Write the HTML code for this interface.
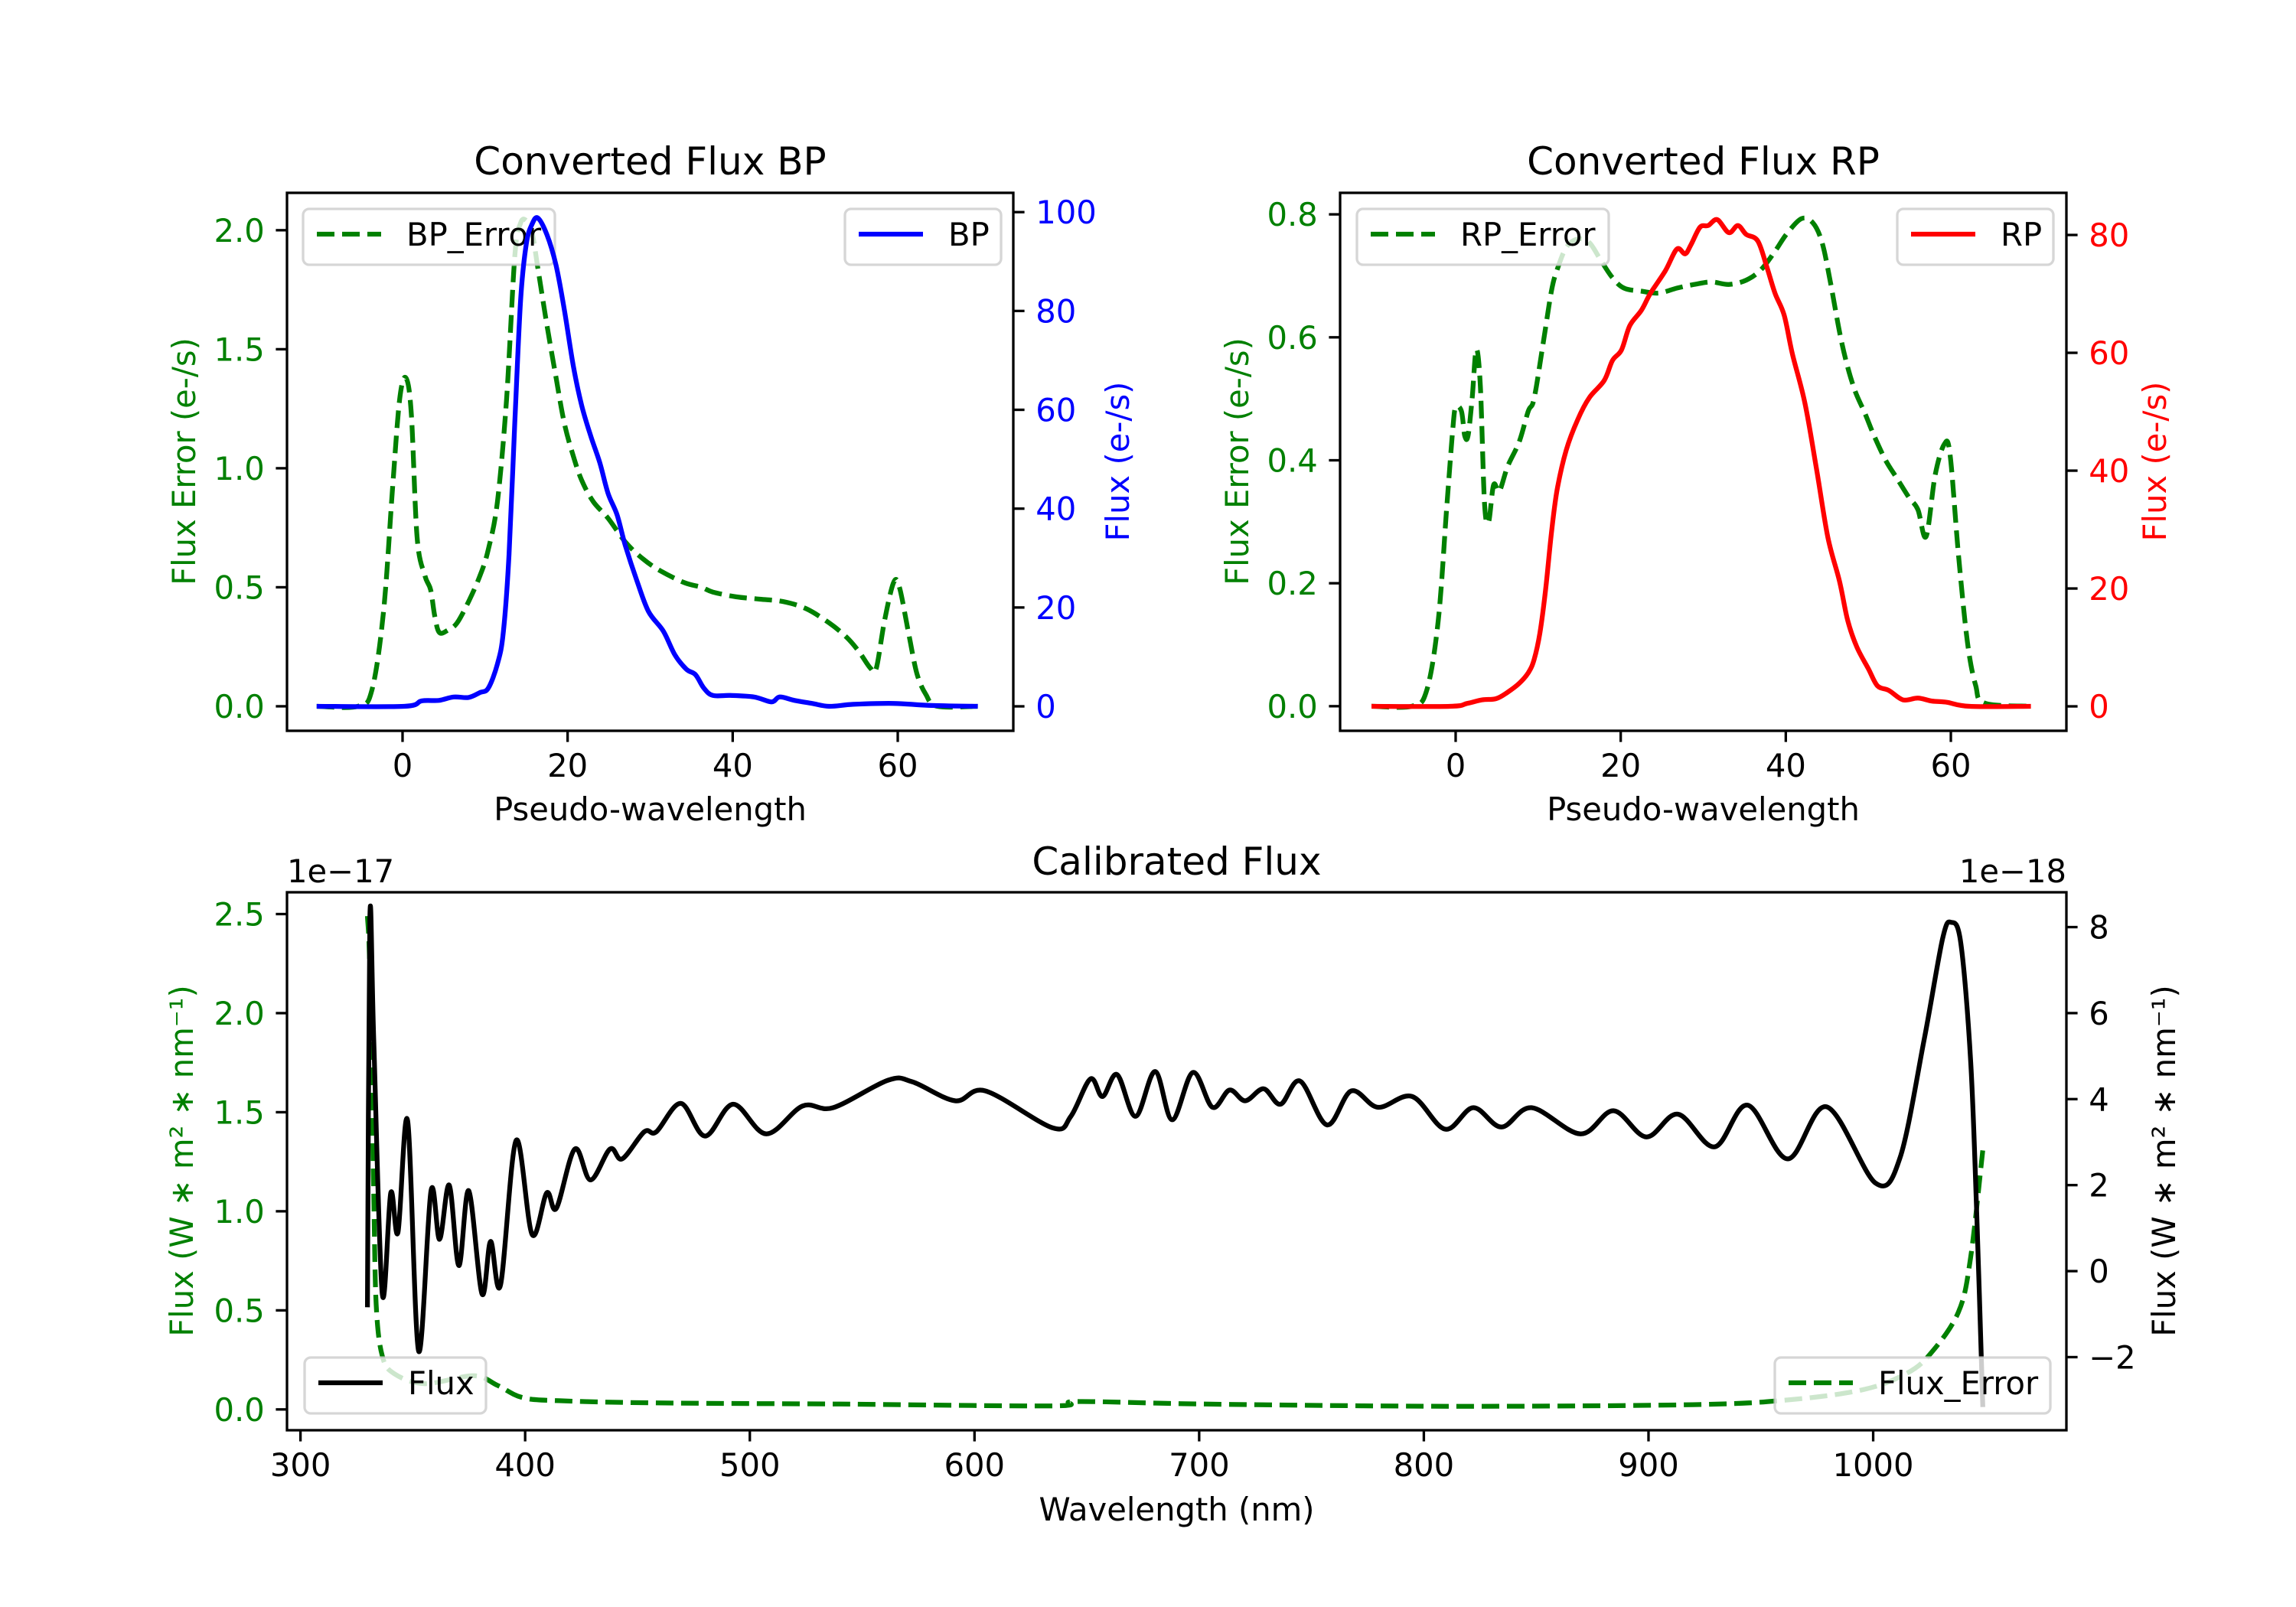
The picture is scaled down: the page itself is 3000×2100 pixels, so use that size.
<!DOCTYPE html>
<html><head><meta charset="utf-8"><style>
html,body{margin:0;padding:0;background:#fff}
svg{display:block}
text{font-family:"DejaVu Sans","Liberation Sans",sans-serif}
</style></head><body>
<svg id="fig" xmlns="http://www.w3.org/2000/svg" width="3000" height="2100" viewBox="0 0 3000 2100">
<rect x="0" y="0" width="3000" height="2100" fill="#fff"/>
</svg>
<script>
// ---------- data ----------
const bpErrX=[-10.4,-5.4,-3.7,-2.3,-1.2,-0.35,0.4,1.06,1.76,2.7,3.4,3.9,4.45,5.5,6.6,8.0,9.4,10.4,11.5,12.6,13.6,14.3,15.0,15.7,16.4,17.5,18.6,19.6,20.7,21.7,23.1,24.9,27.0,29.1,31.2,34.1,36.2,37.6,40.4,43.3,46.1,48.9,51.7,53.8,55.3,56.7,57.4,58.4,59.5,60.2,61.3,62.3,63.4,64.8,69.7];
const bpErrY=[0,0,0.07,0.40,0.92,1.29,1.38,1.23,0.71,0.55,0.49,0.38,0.31,0.32,0.35,0.44,0.55,0.66,0.86,1.29,1.89,2.03,2.04,1.99,1.84,1.60,1.38,1.19,1.05,0.95,0.86,0.79,0.69,0.62,0.57,0.52,0.50,0.48,0.46,0.45,0.44,0.41,0.35,0.29,0.23,0.16,0.16,0.36,0.52,0.50,0.31,0.14,0.05,0.0,0];
const bpX=[-10.4,0.2,2.3,4.4,6.2,8.0,9.4,10.4,11.5,12.2,12.9,13.6,14.3,15.0,15.7,16.4,17.5,18.6,19.6,20.7,21.7,22.8,23.9,24.9,26.0,27.0,28.4,29.8,31.6,33.0,34.4,35.5,36.5,37.6,39.7,42.6,44.7,45.7,47.5,49.6,51.7,54.6,59.5,63.7,69.7];
const bpY=[0,0,1.1,1.2,1.9,1.8,2.8,3.7,8.6,14.8,30.7,57.3,82.1,93.6,97.6,98.8,95.4,89.2,80.3,68.8,60.9,54.7,49.3,43.1,38.7,32.5,25.4,19.2,15.2,10.4,7.5,6.4,3.7,2.2,2.2,1.9,0.9,1.9,1.2,0.6,0,0.4,0.6,0.2,0];
const rpErrX=[-10.2,-5.3,-3.5,-2.1,-1.1,-0.35,0,0.7,1.1,1.5,2.0,2.5,3.0,3.5,4.0,4.6,5.3,6.3,7.7,8.8,9.5,10.6,11.6,12.3,13.4,14.8,16.2,17.6,19.0,20.4,22.5,24.6,26.8,28.9,31.0,33.1,35.2,37.0,38.7,40.1,41.9,43.3,44.4,45.4,46.8,48.2,49.6,50.7,52.1,53.5,54.9,56.0,57.0,58.1,59.2,59.9,60.9,62.0,63.0,64.1,69.7];
const rpErrY=[0,0,0.026,0.14,0.32,0.45,0.486,0.48,0.44,0.44,0.50,0.58,0.52,0.33,0.30,0.36,0.35,0.39,0.43,0.48,0.50,0.59,0.675,0.71,0.746,0.76,0.754,0.725,0.697,0.68,0.675,0.672,0.68,0.686,0.69,0.686,0.693,0.71,0.74,0.768,0.793,0.786,0.754,0.69,0.59,0.52,0.476,0.44,0.40,0.37,0.34,0.32,0.276,0.376,0.426,0.41,0.25,0.105,0.034,0.005,0];
const rpX=[-10.2,-0.7,1.4,3.2,4.9,6.3,7.7,8.8,9.5,10.2,10.9,11.6,12.3,13.4,14.8,16.2,18.0,19.0,20.1,21.1,22.5,23.6,25.4,26.8,27.8,28.5,29.6,30.6,31.7,33.1,34.2,35.2,36.6,37.7,38.7,39.8,40.8,42.3,43.7,45.1,46.5,47.5,48.6,50.0,51.1,52.5,54.2,56.0,57.7,59.5,62.3,69.7];
const rpY=[0,0,0.5,1.1,1.3,2.4,3.9,5.7,7.9,12.4,19.8,29.4,36.8,43.5,48.7,52.4,55.3,58.7,60.5,64.6,67.2,70.1,73.9,77.6,76.8,78.3,81.3,81.6,82.6,80.4,81.6,80.1,79.0,74.6,70.1,66.4,59.8,51.6,40.5,28.7,21.3,14.6,10.1,6.4,3.5,2.7,1.1,1.4,0.9,0.7,0,0];
const calX=[329.8,330.9,332.6,336.4,340.2,343.4,347.7,352.6,358.1,361.9,366.2,370.5,374.9,380.8,384.6,389.0,396.0,403.1,409.6,413.9,422.1,429.1,437.8,443.2,453.0,458.4,469.3,480.1,492.6,507.3,523.5,537.1,561.5,572.4,591.4,604.9,634.8,642.9,651.6,657.0,663.5,671.7,680.4,688.0,697.2,705.9,713.5,720.5,728.7,736.2,744.9,756.9,767.7,779.6,794.8,809.5,822.0,834.5,848.0,869.7,884.4,899.0,913.1,929.4,944.1,961.9,979.3,1001.0,1011.9,1022.7,1030.9,1034.7,1039.0,1043.4,1046.1,1048.8];
const calY=[-0.84,8.24,5.4,-0.53,1.82,0.9,3.5,-1.86,1.87,0.74,2.0,0.13,1.87,-0.53,0.69,-0.33,3.04,0.85,1.82,1.46,2.84,2.12,2.84,2.61,3.24,3.24,3.9,3.14,3.88,3.19,3.84,3.8,4.44,4.4,3.96,4.19,3.33,3.6,4.47,4.06,4.57,3.6,4.64,3.52,4.62,3.81,4.21,3.96,4.24,3.88,4.42,3.40,4.19,3.81,4.06,3.30,3.80,3.35,3.80,3.19,3.73,3.12,3.65,2.89,3.86,2.61,3.82,2.05,2.63,5.39,7.73,8.11,7.63,4.88,1.31,-3.16];
const calErrX=[329.8,330.9,332.6,333.7,336.4,341.8,355.3,377,387.9,398.8,415,458,540,635,645.6,702.6,811,919.6,963,995.6,1014.6,1025.4,1037.9,1043.3,1048.8];
const calErrY=[2.49,2.2,1.09,0.53,0.27,0.18,0.13,0.17,0.12,0.06,0.044,0.033,0.027,0.018,0.04,0.027,0.016,0.024,0.049,0.10,0.18,0.28,0.49,0.76,1.31];
const pwTicks=[0,20,40,60];
const bpErrTicks=[0,0.5,1.0,1.5,2.0];
const bpErrTickLabels=["0.0","0.5","1.0","1.5","2.0"];
const bpTicks=[0,20,40,60,80,100];
const rpErrTicks=[0,0.2,0.4,0.6,0.8];
const rpErrTickLabels=["0.0","0.2","0.4","0.6","0.8"];
const rpTicks=[0,20,40,60,80];
const wlTicks=[300,400,500,600,700,800,900,1000];
const calErrTicks=[0,0.5,1.0,1.5,2.0,2.5];
const calErrTickLabels=["0.0","0.5","1.0","1.5","2.0","2.5"];
const calTicks=[-2,0,2,4,6,8];
const calTickLabels=["\u22122","0","2","4","6","8"];

// ---------- helpers ----------
const NS="http://www.w3.org/2000/svg";
const svg=document.getElementById('fig');
const FS=41.7, LW=6.25, TL=14.6;
function el(tag,attrs,parent){const e=document.createElementNS(NS,tag);for(const k in attrs)e.setAttribute(k,attrs[k]);(parent||svg).appendChild(e);return e;}
function txt(s,attrs,parent){const e=el('text',attrs,parent);e.textContent=s;return e;}
function lin(d0,d1,p0,p1){return v=>p0+(v-d0)*(p1-p0)/(d1-d0);}
function smoothPath(xs,ys,sx,sy){
  const P=xs.map((x,i)=>[sx(x),sy(ys[i])]);
  let d='M'+P[0][0].toFixed(1)+','+P[0][1].toFixed(1);
  for(let i=0;i<P.length-1;i++){
    const p0=P[Math.max(0,i-1)],p1=P[i],p2=P[i+1],p3=P[Math.min(P.length-1,i+2)];
    const t=1/6;
    const c1=[p1[0]+(p2[0]-p0[0])*t,p1[1]+(p2[1]-p0[1])*t];
    const c2=[p2[0]-(p3[0]-p1[0])*t,p2[1]-(p3[1]-p1[1])*t];
    d+=' C'+c1[0].toFixed(1)+','+c1[1].toFixed(1)+' '+c2[0].toFixed(1)+','+c2[1].toFixed(1)+' '+p2[0].toFixed(1)+','+p2[1].toFixed(1);
  }
  return d;
}
let clipN=0;
function clip(x0,y0,x1,y1){const id='clip'+(clipN++);const cp=el('clipPath',{id:id});el('rect',{x:x0,y:y0,width:x1-x0,height:y1-y0},cp);return id;}
function legend(bx,by,bw,label,color,dashed,name){
  const g=el('g',{});
  
  
  el('rect',{x:bx,y:by,width:bw,height:73,rx:8,fill:'#fff','fill-opacity':0.8,stroke:'#cccccc','stroke-opacity':0.8,'stroke-width':3.3},g);
  const cy=by+33;
  const l=el('line',{x1:bx+18,y1:cy,x2:bx+102,y2:cy,stroke:color,'stroke-width':LW},g);
  if(dashed)l.setAttribute('stroke-dasharray','23,10');
  txt(label,{x:bx+135,y:by+48,'font-size':FS,fill:'#000'},g);
}
function xAxis(ticks,labels,sx,y,name){
  const g=el('g',{});
  
  
  ticks.forEach((t,i)=>{el('line',{x1:sx(t),y1:y,x2:sx(t),y2:y+TL,stroke:'#000','stroke-width':3.3},g);
    txt(labels[i],{x:sx(t),y:y+TL+14.6+31,'font-size':FS,'text-anchor':'middle',fill:'#000'},g);});
}
function yAxis(ticks,labels,sy,x,side,color,name){
  const g=el('g',{});
  
  
  ticks.forEach((t,i)=>{const y=sy(t);
    el('line',{x1:x,y1:y,x2:x+(side<0?-TL:TL),y2:y,stroke:'#000','stroke-width':3.3},g);
    txt(labels[i],{x:x+side*(TL+14.6),y:y+15,'font-size':FS,'text-anchor':side<0?'end':'start',fill:color},g);});
}
function frame(x0,y0,x1,y1,name){const r=el('rect',{x:x0,y:y0,width:x1-x0,height:y1-y0,fill:'none',stroke:'#000','stroke-width':3.3});}
function series(xs,ys,sx,sy,color,dashed,cid,name){
  const p=el('path',{d:smoothPath(xs,ys,sx,sy),fill:'none',stroke:color,'stroke-width':LW,'stroke-linejoin':'round','clip-path':'url(#'+cid+')'});
  if(dashed)p.setAttribute('stroke-dasharray','23,10');
  
  
}
function vlabel(s,x,y,color,name){const t=txt(s,{x:x,y:y,'font-size':FS,fill:color,'text-anchor':'middle',transform:'rotate(-90 '+x+' '+y+')'});return t;}
function label(s,x,y,size,anchor,name){const t=txt(s,{x:x,y:y,'font-size':size,'text-anchor':anchor,fill:'#000'});return t;}

// ---------- panel 1: BP ----------
(function(){
  const X0=375,X1=1324,Y0=252,Y1=955;
  const sx=lin(-14,74,X0,X1), syL=lin(-0.103,2.157,Y1,Y0), syR=lin(-4.95,103.9,Y1,Y0);
  const cid=clip(X0,Y0,X1,Y1);
  series(bpErrX,bpErrY,sx,syL,'#008000',true,cid,'bp-error-line');
  legend(396,273,329,'BP_Error','#008000',true,'bp-error-legend');
  series(bpX,bpY,sx,syR,'#0000ff',false,cid,'bp-flux-line');
  legend(1104,273,204,'BP','#0000ff',false,'bp-legend');
  frame(X0,Y0,X1,Y1,'bp-axes-frame');
  xAxis(pwTicks,pwTicks.map(String),sx,Y1,'bp-x-axis');
  yAxis(bpErrTicks,bpErrTickLabels,syL,X0,-1,'#008000','bp-left-y-axis');
  yAxis(bpTicks,bpTicks.map(String),syR,X1,1,'#0000ff','bp-right-y-axis');
  label('Converted Flux BP',(X0+X1)/2,228,50,'middle','bp-title');
  label('Pseudo-wavelength',(X0+X1)/2,1072,FS,'middle','bp-x-axis-title');
  vlabel('Flux Error (e-/s)',255,603,'#008000','bp-left-y-axis-title');
  vlabel('Flux (e-/s)',1475,603,'#0000ff','bp-right-y-axis-title');
})();

// ---------- panel 2: RP ----------
(function(){
  const X0=1751,X1=2700,Y0=252,Y1=955;
  const sx=lin(-14,74,X0,X1), syL=lin(-0.04,0.835,Y1,Y0), syR=lin(-4.15,87.15,Y1,Y0);
  const cid=clip(X0,Y0,X1,Y1);
  series(rpErrX,rpErrY,sx,syL,'#008000',true,cid,'rp-error-line');
  legend(1773,273,329,'RP_Error','#008000',true,'rp-error-legend');
  series(rpX,rpY,sx,syR,'#ff0000',false,cid,'rp-flux-line');
  legend(2479,273,204,'RP','#ff0000',false,'rp-legend');
  frame(X0,Y0,X1,Y1,'rp-axes-frame');
  xAxis(pwTicks,pwTicks.map(String),sx,Y1,'rp-x-axis');
  yAxis(rpErrTicks,rpErrTickLabels,syL,X0,-1,'#008000','rp-left-y-axis');
  yAxis(rpTicks,rpTicks.map(String),syR,X1,1,'#ff0000','rp-right-y-axis');
  label('Converted Flux RP',(X0+X1)/2,228,50,'middle','rp-title');
  label('Pseudo-wavelength',(X0+X1)/2,1072,FS,'middle','rp-x-axis-title');
  vlabel('Flux Error (e-/s)',1631,603,'#008000','rp-left-y-axis-title');
  vlabel('Flux (e-/s)',2830,603,'#ff0000','rp-right-y-axis-title');
})();

// ---------- panel 3: calibrated ----------
(function(){
  const X0=375,X1=2700,Y0=1166,Y1=1869;
  const sx=lin(294,1086,X0,X1), syL=lin(-0.105,2.61,Y1,Y0), syR=lin(-3.70,8.81,Y1,Y0);
  const cid=clip(X0,Y0,X1,Y1);
  series(calErrX,calErrY,sx,syL,'#008000',true,cid,'flux-error-line');
  legend(398,1774,237,'Flux','#000000',false,'flux-legend');
  series(calX,calY,sx,syR,'#000000',false,cid,'flux-line');
  legend(2319,1774,360,'Flux_Error','#008000',true,'flux-error-legend');
  frame(X0,Y0,X1,Y1,'calibrated-axes-frame');
  xAxis(wlTicks,wlTicks.map(String),sx,Y1,'calibrated-x-axis');
  yAxis(calErrTicks,calErrTickLabels,syL,X0,-1,'#008000','calibrated-left-y-axis');
  yAxis(calTicks,calTickLabels,syR,X1,1,'#000000','calibrated-right-y-axis');
  label('Calibrated Flux',(X0+X1)/2,1143,50,'middle','calibrated-title');
  label('1e\u221217',X0,1153,FS,'start','left-offset-text');
  label('1e\u221218',X1,1153,FS,'end','right-offset-text');
  label('Wavelength (nm)',(X0+X1)/2,1987,FS,'middle','calibrated-x-axis-title');
  vlabel('Flux (W \u2217 m\u00b2 \u2217 nm\u207b\u00b9)',252,1517,'#008000','calibrated-left-y-axis-title');
  vlabel('Flux (W \u2217 m\u00b2 \u2217 nm\u207b\u00b9)',2842,1517,'#000000','calibrated-right-y-axis-title');
})();
</script>
</body></html>
